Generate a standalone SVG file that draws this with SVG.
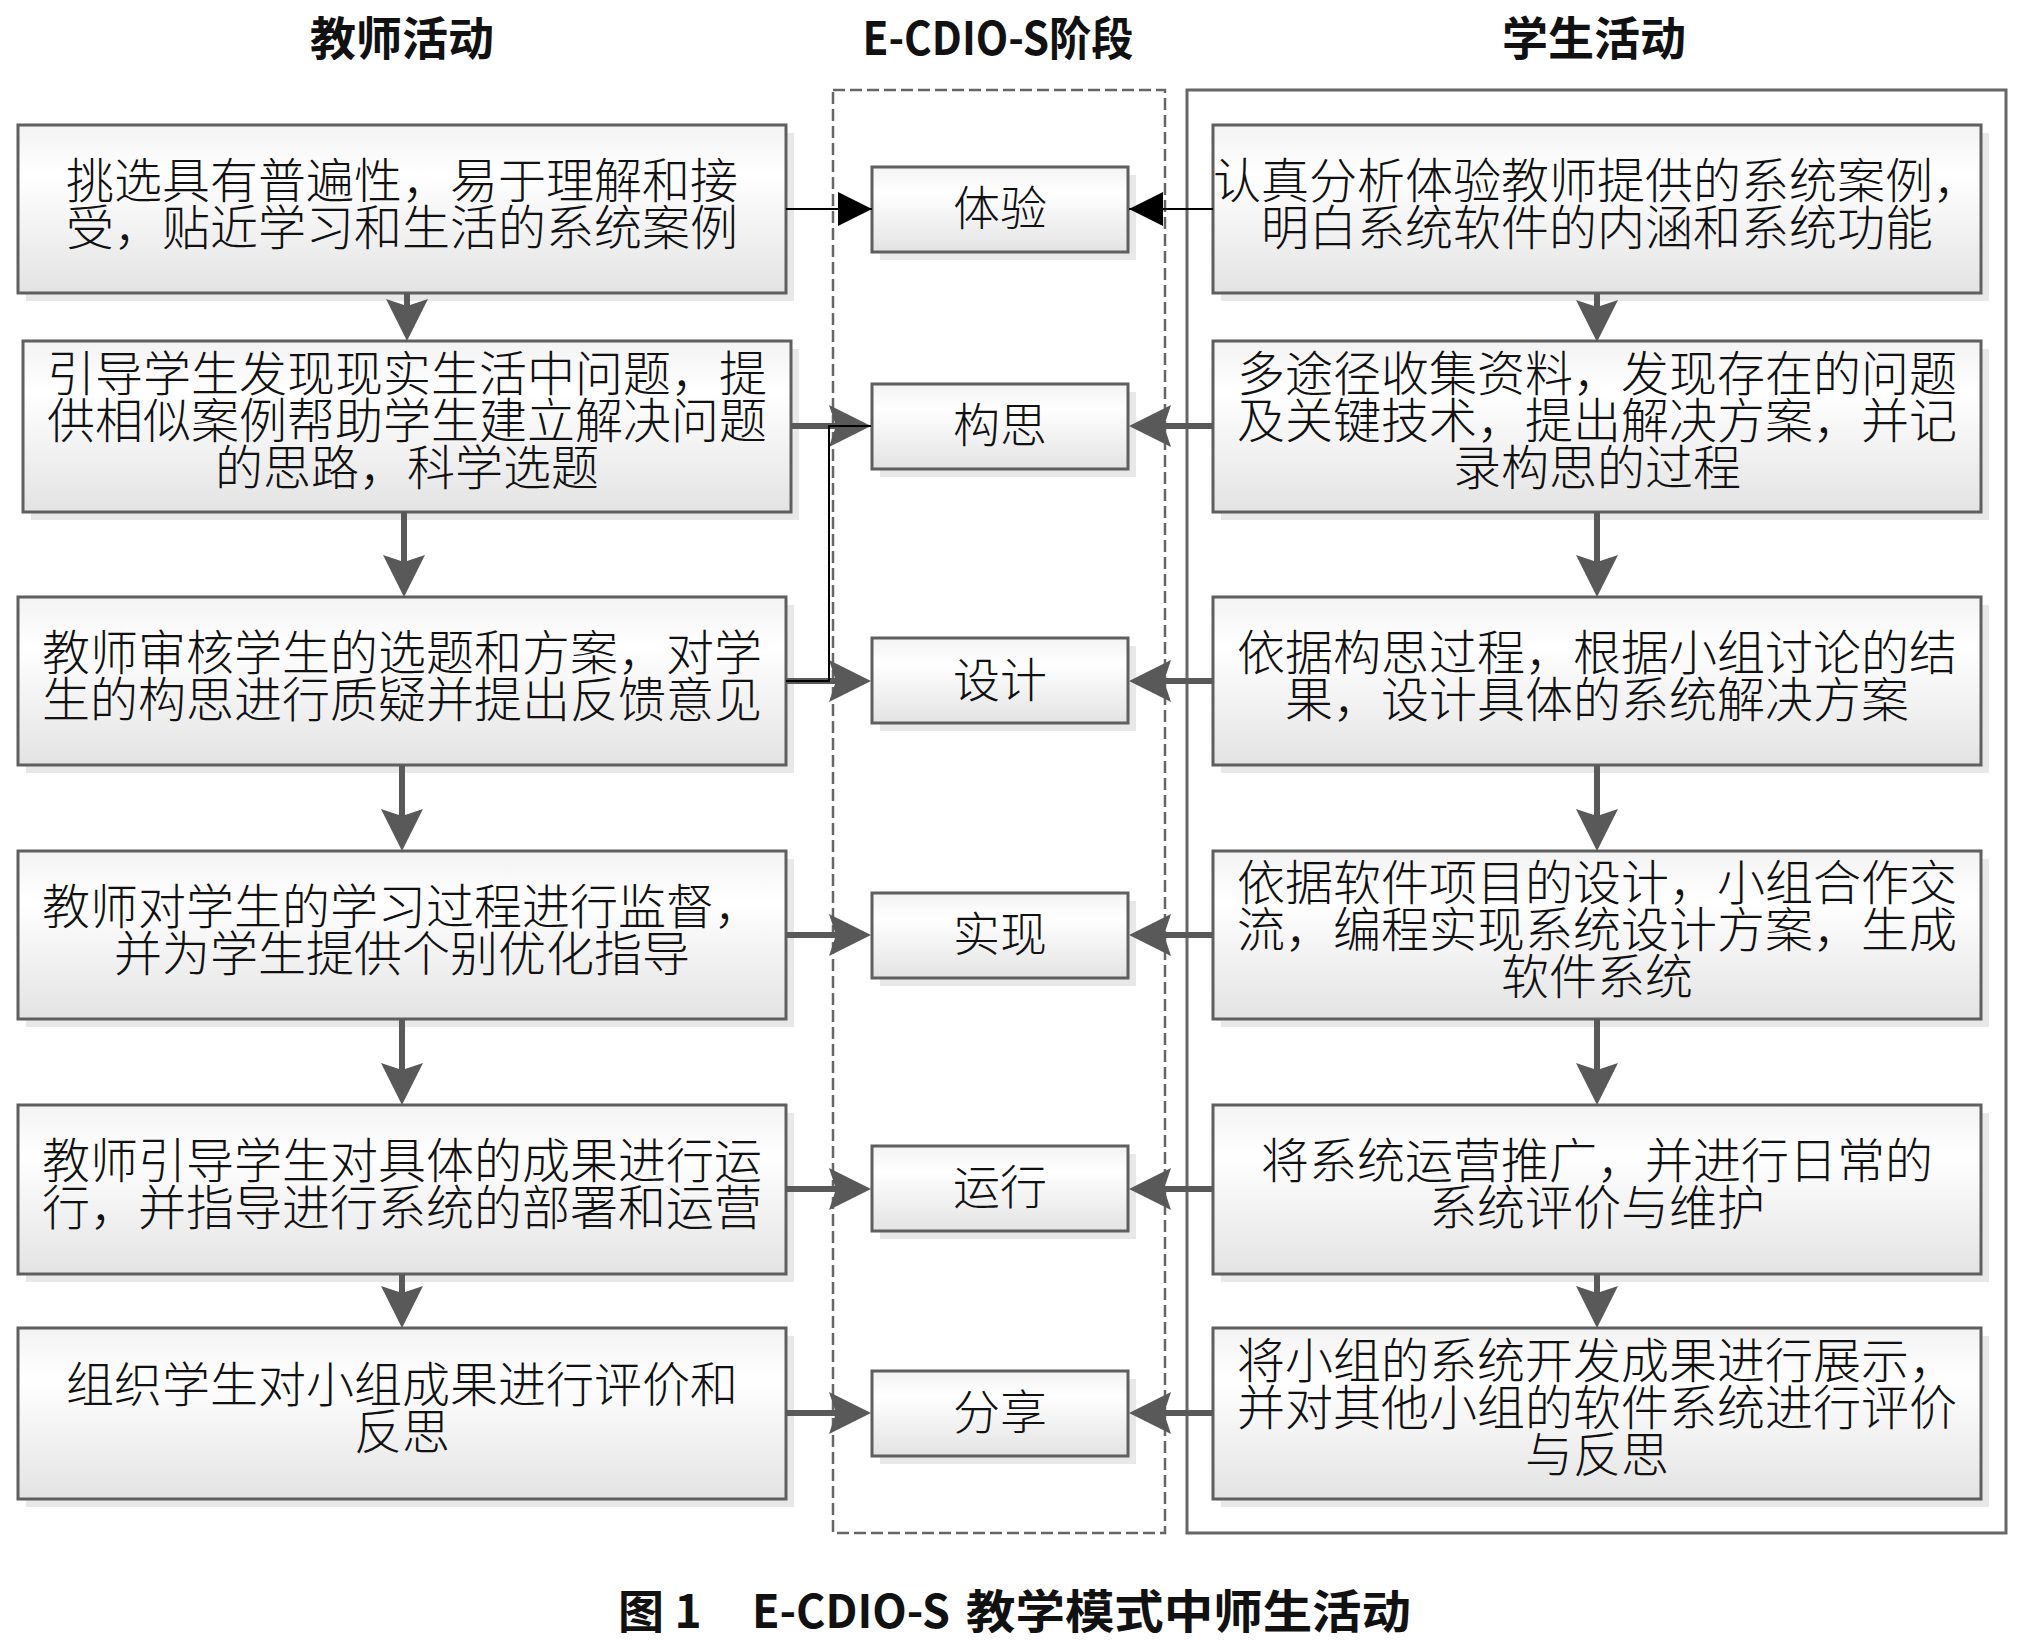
<svg xmlns="http://www.w3.org/2000/svg" width="2026" height="1645" viewBox="0 0 2026 1645">
<defs>
<linearGradient id="g" x1="0" y1="0" x2="0" y2="1">
<stop offset="0" stop-color="#f3f3f3"/>
<stop offset="0.3" stop-color="#ffffff"/>
<stop offset="1" stop-color="#e3e3e3"/>
</linearGradient>
<marker id="ah" markerUnits="userSpaceOnUse" viewBox="0 0 42 42" markerWidth="42" markerHeight="42" refX="10" refY="21" orient="auto">
<path d="M0,0 L42,21 L0,42 L7,21 Z" fill="#595959"/>
</marker>
<marker id="bh" markerUnits="userSpaceOnUse" viewBox="0 0 34 34" markerWidth="34" markerHeight="34" refX="34" refY="17" orient="auto">
<path d="M0,0 L34,17 L0,34 Z" fill="#000"/>
</marker>
</defs>
<style>
.sh{fill:#e8e8e8}
.box{fill:url(#g);stroke:#5f5f5f;stroke-width:3}
.t{font-family:"Noto Sans CJK SC","Noto Sans CJK JP",sans-serif;font-size:48px;font-weight:300;text-anchor:middle;fill:#111}
.m{font-family:"Noto Sans CJK SC",sans-serif;font-size:47px;font-weight:300;text-anchor:middle;fill:#111}
.h{font-family:"Noto Sans CJK SC",sans-serif;font-size:46px;font-weight:bold;text-anchor:middle;fill:#111}
.c{font-family:"Noto Sans CJK SC",sans-serif;font-size:46px;font-weight:bold;fill:#111}
.thick{stroke:#595959;stroke-width:6;fill:none;marker-end:url(#ah)}
.thin{stroke:#000;stroke-width:2;fill:none}
</style>
<rect width="2026" height="1645" fill="#fff"/>

<g id="headers">
<text class="h" x="402" y="55">教师活动</text>
<text class="h" x="998" y="55" textLength="271" lengthAdjust="spacingAndGlyphs">E-CDIO-S阶段</text>
<text class="h" x="1594" y="55">学生活动</text>
</g>

<g id="lanes">
<rect x="833" y="90" width="332" height="1443" fill="none" stroke="#666" stroke-width="2.5" stroke-dasharray="12 5"/>
<rect x="1187" y="90" width="819" height="1443" fill="none" stroke="#666" stroke-width="3"/>
</g>

<g id="teacher1"><rect class="sh" x="26" y="133" width="768" height="168"/><rect class="box" x="18" y="125" width="768" height="168"/>
<text class="t" x="402" y="198">挑选具有普遍性，易于理解和接</text><text class="t" x="402" y="245">受，贴近学习和生活的系统案例</text></g>
<g id="teacher2"><rect class="sh" x="31" y="349" width="768" height="171"/><rect class="box" x="23" y="341" width="768" height="171"/>
<text class="t" x="407" y="391">引导学生发现现实生活中问题，提</text><text class="t" x="407" y="438">供相似案例帮助学生建立解决问题</text><text class="t" x="407" y="485">的思路，科学选题</text></g>
<g id="teacher3"><rect class="sh" x="26" y="605" width="768" height="168"/><rect class="box" x="18" y="597" width="768" height="168"/>
<text class="t" x="402" y="670">教师审核学生的选题和方案，对学</text><text class="t" x="402" y="717">生的构思进行质疑并提出反馈意见</text></g>
<g id="teacher4"><rect class="sh" x="26" y="859" width="768" height="168"/><rect class="box" x="18" y="851" width="768" height="168"/>
<text class="t" x="402" y="924">教师对学生的学习过程进行监督，</text><text class="t" x="402" y="971">并为学生提供个别优化指导</text></g>
<g id="teacher5"><rect class="sh" x="26" y="1113" width="768" height="169"/><rect class="box" x="18" y="1105" width="768" height="169"/>
<text class="t" x="402" y="1178">教师引导学生对具体的成果进行运</text><text class="t" x="402" y="1225">行，并指导进行系统的部署和运营</text></g>
<g id="teacher6"><rect class="sh" x="26" y="1336" width="768" height="171"/><rect class="box" x="18" y="1328" width="768" height="171"/>
<text class="t" x="402" y="1402">组织学生对小组成果进行评价和</text><text class="t" x="402" y="1449">反思</text></g>

<g id="stage1"><rect class="sh" x="880" y="175" width="256" height="85"/><rect class="box" x="872" y="167" width="256" height="85"/><text class="m" x="1000" y="225">体验</text></g>
<g id="stage2"><rect class="sh" x="880" y="392" width="256" height="85"/><rect class="box" x="872" y="384" width="256" height="85"/><text class="m" x="1000" y="442">构思</text></g>
<g id="stage3"><rect class="sh" x="880" y="646" width="256" height="85"/><rect class="box" x="872" y="638" width="256" height="85"/><text class="m" x="1000" y="697">设计</text></g>
<g id="stage4"><rect class="sh" x="880" y="901" width="256" height="85"/><rect class="box" x="872" y="893" width="256" height="85"/><text class="m" x="1000" y="951">实现</text></g>
<g id="stage5"><rect class="sh" x="880" y="1154" width="256" height="85"/><rect class="box" x="872" y="1146" width="256" height="85"/><text class="m" x="1000" y="1204">运行</text></g>
<g id="stage6"><rect class="sh" x="880" y="1379" width="256" height="85"/><rect class="box" x="872" y="1371" width="256" height="85"/><text class="m" x="1000" y="1429">分享</text></g>

<g id="student1"><rect class="sh" x="1221" y="133" width="768" height="168"/><rect class="box" x="1213" y="125" width="768" height="168"/>
<text class="t" x="1597" y="198">认真分析体验教师提供的系统案例，</text><text class="t" x="1597" y="245">明白系统软件的内涵和系统功能</text></g>
<g id="student2"><rect class="sh" x="1221" y="349" width="768" height="171"/><rect class="box" x="1213" y="341" width="768" height="171"/>
<text class="t" x="1597" y="391">多途径收集资料，发现存在的问题</text><text class="t" x="1597" y="438">及关键技术，提出解决方案，并记</text><text class="t" x="1597" y="485">录构思的过程</text></g>
<g id="student3"><rect class="sh" x="1221" y="605" width="768" height="168"/><rect class="box" x="1213" y="597" width="768" height="168"/>
<text class="t" x="1597" y="670">依据构思过程，根据小组讨论的结</text><text class="t" x="1597" y="717">果，设计具体的系统解决方案</text></g>
<g id="student4"><rect class="sh" x="1221" y="859" width="768" height="168"/><rect class="box" x="1213" y="851" width="768" height="168"/>
<text class="t" x="1597" y="900">依据软件项目的设计，小组合作交</text><text class="t" x="1597" y="947">流，编程实现系统设计方案，生成</text><text class="t" x="1597" y="994">软件系统</text></g>
<g id="student5"><rect class="sh" x="1221" y="1113" width="768" height="169"/><rect class="box" x="1213" y="1105" width="768" height="169"/>
<text class="t" x="1597" y="1178">将系统运营推广，并进行日常的</text><text class="t" x="1597" y="1225">系统评价与维护</text></g>
<g id="student6"><rect class="sh" x="1221" y="1336" width="768" height="171"/><rect class="box" x="1213" y="1328" width="768" height="171"/>
<text class="t" x="1597" y="1378">将小组的系统开发成果进行展示，</text><text class="t" x="1597" y="1425">并对其他小组的软件系统进行评价</text><text class="t" x="1597" y="1472">与反思</text></g>

<g id="connectors">
<line class="thin" x1="786" y1="209" x2="872" y2="209" marker-end="url(#bh)"/>
<line class="thin" x1="1213" y1="209" x2="1129" y2="209" marker-end="url(#bh)"/>
<line class="thick" x1="791" y1="426" x2="839" y2="426"/>
<line class="thick" x1="786" y1="681" x2="839" y2="681"/>
<line class="thick" x1="786" y1="935" x2="839" y2="935"/>
<line class="thick" x1="786" y1="1189" x2="839" y2="1189"/>
<line class="thick" x1="786" y1="1413" x2="839" y2="1413"/>
<line class="thick" x1="1213" y1="426" x2="1161" y2="426"/>
<line class="thick" x1="1213" y1="681" x2="1161" y2="681"/>
<line class="thick" x1="1213" y1="935" x2="1161" y2="935"/>
<line class="thick" x1="1213" y1="1189" x2="1161" y2="1189"/>
<line class="thick" x1="1213" y1="1413" x2="1161" y2="1413"/>
<line class="thick" x1="407" y1="293" x2="407" y2="309"/>
<line class="thick" x1="404" y1="512" x2="404" y2="565"/>
<line class="thick" x1="402" y1="765" x2="402" y2="819"/>
<line class="thick" x1="402" y1="1019" x2="402" y2="1073"/>
<line class="thick" x1="402" y1="1274" x2="402" y2="1296"/>
<line class="thick" x1="1597" y1="293" x2="1597" y2="310"/>
<line class="thick" x1="1597" y1="512" x2="1597" y2="565"/>
<line class="thick" x1="1597" y1="765" x2="1597" y2="819"/>
<line class="thick" x1="1597" y1="1019" x2="1597" y2="1073"/>
<line class="thick" x1="1597" y1="1274" x2="1597" y2="1296"/>
<path class="thin" d="M786,681 H829 V426 H871"/>
</g>

<text class="c" y="1628"><tspan x="618">图 1</tspan><tspan x="752" textLength="198" lengthAdjust="spacingAndGlyphs">E-CDIO-S</tspan><tspan x="966" textLength="445" lengthAdjust="spacingAndGlyphs">教学模式中师生活动</tspan></text>
</svg>
